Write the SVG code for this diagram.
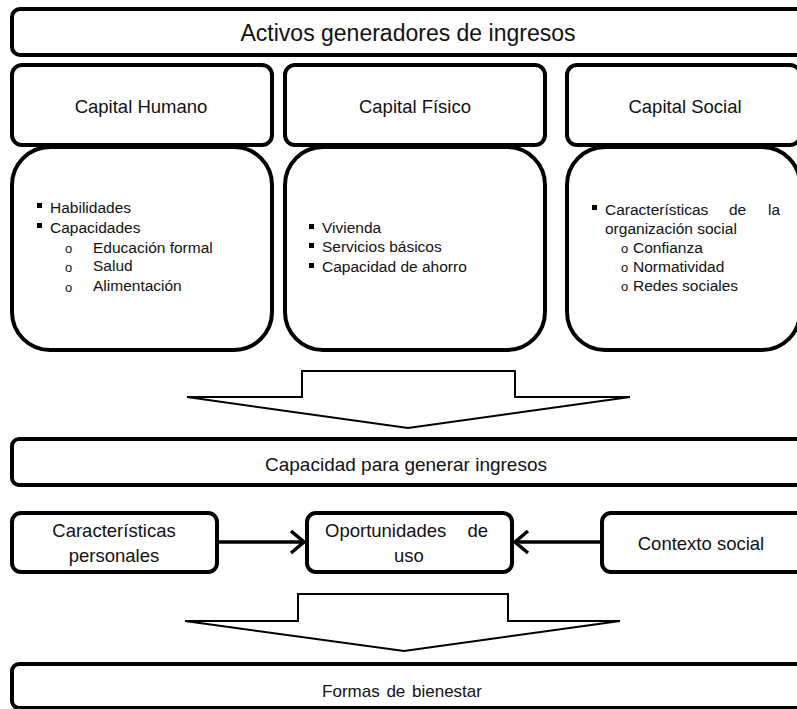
<svg xmlns="http://www.w3.org/2000/svg" width="797" height="709" viewBox="0 0 797 709">
<style>
.box{fill:#fff;stroke:#000;stroke-width:4}
.big{fill:#fff;stroke:#000;stroke-width:2}
text{font-family:"Liberation Sans",Arial,sans-serif;fill:#111}
.t23{font-size:23px;text-anchor:middle}
.t18{font-size:18.5px;text-anchor:middle}
.t19{font-size:19px;text-anchor:middle}
.li{font-size:15.5px}
.sb{font-size:13px}
.conn{fill:none;stroke:#000;stroke-width:3.5}
</style>
<rect width="797" height="709" fill="#fff"/>
<g id="activos">
<rect class="box" x="12" y="9" width="800" height="46" rx="8"/>
<text class="t23" x="408" y="41">Activos generadores de ingresos</text>
</g>
<g id="capital-humano">
<rect class="box" x="12" y="65" width="260" height="80" rx="10"/>
<text class="t18" x="141" y="113">Capital Humano</text>
</g>
<g id="capital-fisico">
<rect class="box" x="285" y="65" width="260" height="80" rx="10"/>
<text class="t18" x="415" y="113">Capital Físico</text>
</g>
<g id="capital-social">
<rect class="box" x="567" y="65" width="233" height="80" rx="10"/>
<text class="t18" x="685" y="113">Capital Social</text>
</g>
<g id="humano-detalle">
<rect class="box" x="12" y="147" width="260" height="203" rx="38"/>
<rect x="37" y="203" width="5" height="5" fill="#000"/>
<text class="li" x="50" y="213">Habilidades</text>
<rect x="37" y="223" width="5" height="5" fill="#000"/>
<text class="li" x="50" y="233">Capacidades</text>
<text class="sb" x="65" y="253">o</text>
<text class="li" x="93" y="253">Educación formal</text>
<text class="sb" x="65" y="272">o</text>
<text class="li" x="93" y="271">Salud</text>
<text class="sb" x="65" y="292">o</text>
<text class="li" x="93" y="291">Alimentación</text>
</g>
<g id="fisico-detalle">
<rect class="box" x="285" y="147" width="260" height="203" rx="38"/>
<rect x="309" y="224" width="5" height="5" fill="#000"/>
<text class="li" x="322" y="233">Vivienda</text>
<rect x="309" y="243" width="5" height="5" fill="#000"/>
<text class="li" x="322" y="252">Servicios básicos</text>
<rect x="309" y="263" width="5" height="5" fill="#000"/>
<text class="li" x="322" y="272">Capacidad de ahorro</text>
</g>
<g id="social-detalle">
<rect class="box" x="567" y="147" width="233" height="203" rx="38"/>
<rect x="592" y="205" width="5" height="5" fill="#000"/>
<text class="li" x="605" y="215">Características</text>
<text class="li" x="729" y="215">de</text>
<text class="li" x="768" y="215">la</text>
<text class="li" x="605" y="234">organización social</text>
<text class="sb" x="621" y="253">o</text>
<text class="li" x="633" y="253">Confianza</text>
<text class="sb" x="621" y="272">o</text>
<text class="li" x="633" y="272">Normatividad</text>
<text class="sb" x="621" y="291">o</text>
<text class="li" x="633" y="291">Redes sociales</text>
</g>
<g id="flecha-1">
<path class="big" d="M302 371 H515 V397 H630 L408 428 L187 397 H302 Z"/>
</g>
<g id="capacidad">
<rect class="box" x="12" y="439" width="800" height="46" rx="7"/>
<text class="t19" x="406" y="471">Capacidad para generar ingresos</text>
</g>
<g id="caracteristicas-personales">
<rect class="box" x="12" y="513" width="205" height="59" rx="9"/>
<text class="t18" x="114" y="537">Características</text>
<text class="t18" x="114" y="562">personales</text>
</g>
<g id="oportunidades">
<rect class="box" x="307" y="513" width="205" height="59" rx="9"/>
<text class="t18" x="325" y="537" style="text-anchor:start">Oportunidades</text>
<text class="t18" x="488" y="537" style="text-anchor:end">de</text>
<text class="t18" x="409" y="562">uso</text>
</g>
<g id="contexto-social">
<rect class="box" x="602" y="513" width="210" height="59" rx="9"/>
<text class="t18" x="701" y="550">Contexto social</text>
</g>
<g id="connectors">
<line class="conn" x1="217" y1="542" x2="303" y2="542"/>
<polyline class="conn" points="291,531 304,542 291,553"/>
<line class="conn" x1="602" y1="542" x2="516" y2="542"/>
<polyline class="conn" points="528,531 515,542 528,553"/>
</g>
<g id="flecha-2">
<path class="big" d="M298 594 H508 V621 H620 L404 651 L185 621 H298 Z"/>
</g>
<g id="formas-bienestar">
<rect class="box" x="12" y="664" width="800" height="44" rx="7"/>
<text x="402" y="697" style="font-size:17px;text-anchor:middle;word-spacing:2px">Formas de bienestar</text>
</g>
</svg>
